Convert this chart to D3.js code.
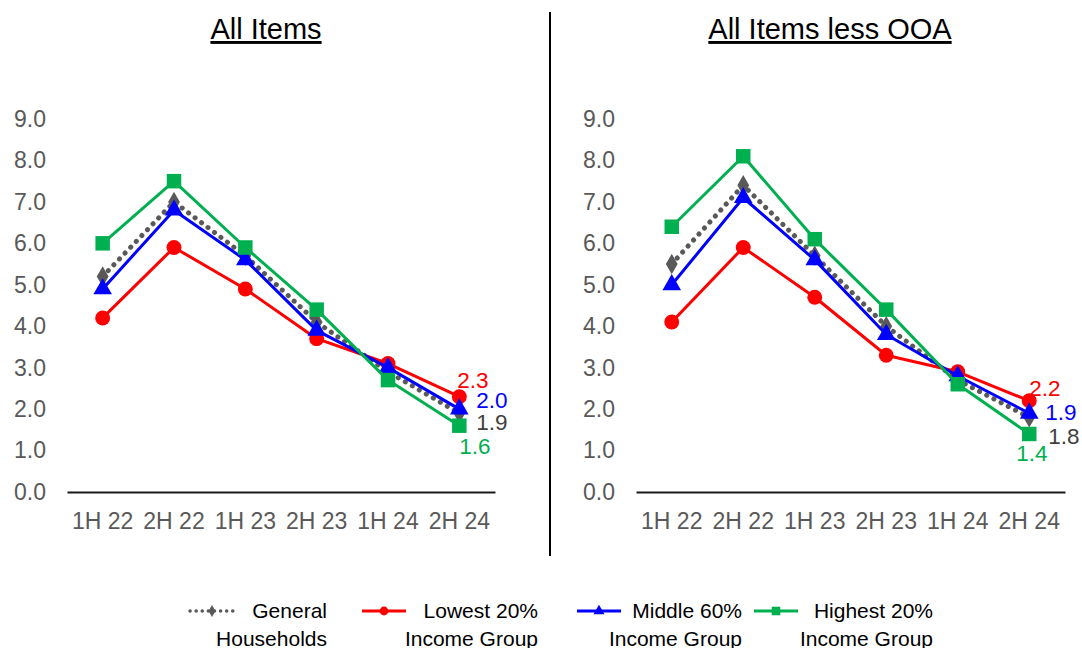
<!DOCTYPE html>
<html>
<head>
<meta charset="utf-8">
<script src="https://cdn.jsdelivr.net/npm/d3@7"></script>
<style>
  body { margin: 0; background: #fff; }
  svg { display: block; font-family: "Liberation Sans", Arial, sans-serif; }
  .tick-label { fill: #595959; font-size: 23px; }
  .panel-title { fill: #000; font-size: 29px; text-decoration: underline; }
  .legend-text { fill: #000; font-size: 21px; }
  .end-label { font-size: 22.5px; }
</style>
</head>
<body>
<div id="chart"></div>
<script>
// --- DATA ---
const categories = ["1H 22", "2H 22", "1H 23", "2H 23", "1H 24", "2H 24"];
const yTicks = [0, 1, 2, 3, 4, 5, 6, 7, 8, 9];
const panelTitles = ["All Items", "All Items less OOA"];
const seriesNames = ["General\nHouseholds", "Lowest 20%\nIncome Group", "Middle 60%\nIncome Group", "Highest 20%\nIncome Group"];

// All Items
const allGeneral = [5.2, 7.0, 5.7, 4.1, 2.9, 1.9];
const allLowest = [4.2, 5.9, 4.9, 3.7, 3.1, 2.3];
const allMiddle = [4.9, 6.8, 5.6, 3.9, 3.0, 2.0];
const allHighest = [6.0, 7.5, 5.9, 4.4, 2.7, 1.6];

// All Items less OOA
const ooaGeneral = [5.5, 7.4, 5.7, 4.0, 2.7, 1.8];
const ooaLowest = [4.1, 5.9, 4.7, 3.3, 2.9, 2.2];
const ooaMiddle = [5.0, 7.1, 5.6, 3.8, 2.8, 1.9];
const ooaHighest = [6.4, 8.1, 6.1, 4.4, 2.6, 1.4];

(function () {
    'use strict';

    const W = 1082, H = 648;
    const svg = d3.select("#chart").append("svg")
        .attr("width", W).attr("height", H);
    svg.append("rect").attr("width", W).attr("height", H).attr("fill", "#fff");

    // series styles: gray dotted / red / blue / green
    const styles = [
        { color: "#595959", label: "#404040", dotted: true, marker: d3.symbolDiamond, size: 120 },
        { color: "#FF0000", label: "#FF0000", dotted: false, marker: d3.symbolCircle, size: 175 },
        { color: "#0000FF", label: "#0000FF", dotted: false, marker: d3.symbolTriangle, size: 150 },
        { color: "#00B050", label: "#00B050", dotted: false, marker: d3.symbolSquare, size: 210 }
    ];

    const panels = [
        { title: panelTitles[0], x0: 67, x1: 495, titleX: 266, series: [allGeneral, allLowest, allMiddle, allHighest],
          // end label offsets: general, lowest, middle, highest
          offsets: [[17, 9], [-2, -17], [17, -9], [0, 20]] },
        { title: panelTitles[1], x0: 636, x1: 1065, titleX: 830, series: [ooaGeneral, ooaLowest, ooaMiddle, ooaHighest],
          offsets: [[19, 19], [0, -13], [16, -1], [-13, 19]] }
    ];

    const y = d3.scaleLinear().domain([0, 9]).range([492, 119]);

    // divider
    svg.append("line")
        .attr("x1", 550).attr("x2", 550).attr("y1", 12).attr("y2", 556)
        .attr("stroke", "#000").attr("stroke-width", 2);

    panels.forEach(p => {
        const x = d3.scaleBand().domain(categories).range([p.x0, p.x1]).padding(0);
        const cx = d => x(d) + x.bandwidth() / 2;
        const g = svg.append("g");

        // title
        g.append("text").attr("class", "panel-title")
            .attr("x", p.titleX).attr("y", 39)
            .attr("text-anchor", "middle")
            .text(p.title);

        // y tick labels
        const yAxis = g.append("g")
            .attr("transform", `translate(${p.x0},0)`)
            .call(d3.axisLeft(y).tickValues(yTicks).tickSize(0).tickPadding(21).tickFormat(d3.format(".1f")));
        yAxis.select(".domain").remove();
        yAxis.selectAll("text").attr("class", "tick-label").attr("font-family", null).attr("font-size", null);

        // x axis
        const xAxis = g.append("g")
            .attr("transform", `translate(0,${y(0)})`)
            .call(d3.axisBottom(x).tickSize(0).tickPadding(21));
        xAxis.select(".domain").attr("stroke", "#1a1a1a").attr("stroke-width", 2);
        xAxis.selectAll("text").attr("class", "tick-label").attr("font-family", null).attr("font-size", null);

        const line = d3.line().x((d, i) => cx(categories[i])).y(d => y(d));

        p.series.forEach((vals, si) => {
            const st = styles[si];
            const path = g.append("path").datum(vals)
                .attr("d", line)
                .attr("fill", "none")
                .attr("stroke", st.color)
                .attr("stroke-linejoin", "round");
            if (st.dotted) {
                path.attr("stroke-width", 5).attr("stroke-dasharray", "0.1 8").attr("stroke-linecap", "round");
            } else {
                path.attr("stroke-width", 3);
            }

            g.selectAll(null).data(vals).enter().append("path")
                .attr("d", d3.symbol().type(st.marker).size(st.size))
                .attr("transform", (d, i) => `translate(${cx(categories[i])},${y(d)})`)
                .attr("fill", st.color);

            // end label
            const last = vals[vals.length - 1];
            const off = p.offsets[si];
            g.append("text").attr("class", "end-label")
                .attr("x", cx(categories[categories.length - 1]) + off[0])
                .attr("y", y(last) + off[1])
                .attr("dy", "0.35em")
                .attr("fill", st.label)
                .text(d3.format(".1f")(last));
        });
    });

    // --- LEGEND ---
    const legendItems = [
        { lx: 190, tx: 327 },
        { lx: 362, tx: 538 },
        { lx: 577, tx: 742 },
        { lx: 754, tx: 933 }
    ];
    const leg = svg.append("g");
    seriesNames.forEach((name, i) => {
        const st = styles[i];
        const it = legendItems[i];
        const ly = 611;
        const ln = leg.append("line")
            .attr("x1", it.lx).attr("x2", it.lx + 44)
            .attr("y1", ly).attr("y2", ly)
            .attr("stroke", st.color);
        if (st.dotted) {
            ln.attr("stroke-width", 3.5).attr("stroke-dasharray", "0.1 6").attr("stroke-linecap", "round");
        } else {
            ln.attr("stroke-width", 3);
        }
        leg.append("path")
            .attr("d", d3.symbol().type(st.marker).size(st.size * 0.35))
            .attr("transform", `translate(${it.lx + 22},${ly})`)
            .attr("fill", st.color);
        name.split("\n").forEach((t, k) => {
            leg.append("text").attr("class", "legend-text")
                .attr("x", it.tx).attr("y", ly + k * 28)
                .attr("dy", "0.35em")
                .attr("text-anchor", "end")
                .text(t);
        });
    });
})();
</script>
</body>
</html>
